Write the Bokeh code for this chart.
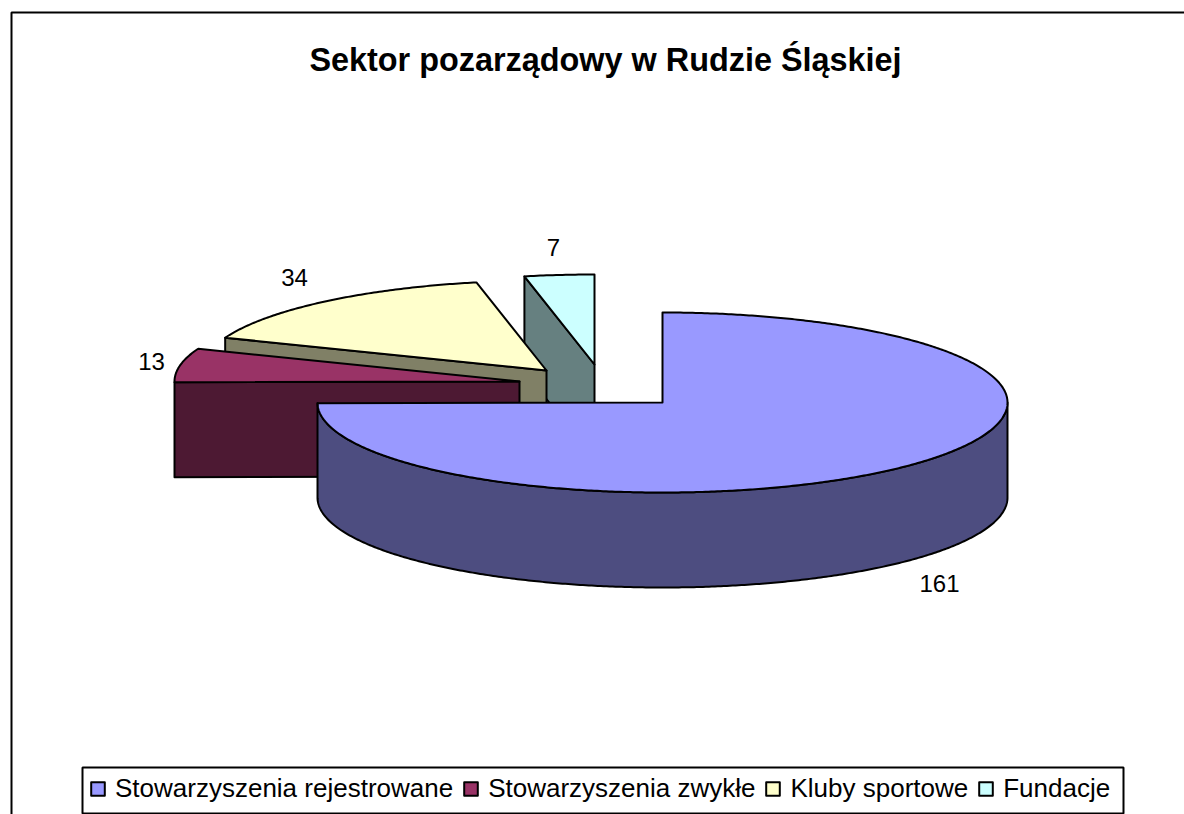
import numpy as np
from bokeh.core.properties import value
from bokeh.embed import file_html
from bokeh.models import Legend, LegendItem, Range1d
from bokeh.plotting import figure
from bokeh.resources import INLINE

categories = ["Stowarzyszenia rejestrowane", "Stowarzyszenia zwykłe", "Kluby sportowe", "Fundacje"]
values = [161, 13, 34, 7]
top_colors = ["#9999FF", "#993366", "#FFFFCC", "#CCFFFF"]
wall_colors = ["#4D4D80", "#4D1933", "#808066", "#668080"]
title = "Sektor pozarządowy w Rudzie Śląskiej"

W, H = 1184, 814
p = figure(width=W, height=H, output_backend="svg", toolbar_location=None,
           x_range=Range1d(0, W), y_range=Range1d(H, 0),
           min_border=0, outline_line_color=None, background_fill_color="white")
p.axis.visible = False
p.grid.visible = False

# page-pixel geometry of the exploded 3-D pie
RX, RY, DEPTH = 345, 90, 95
apexes = [(662, 402), (519, 381), (546, 370), (594, 364)]
LW = 2

fractions = np.array(values) / sum(values)
edges = np.concatenate([[0], np.cumsum(fractions) * 360])


def arc(apex, a0, a1):
    t = np.radians(np.linspace(a0, a1, max(int(abs(a1 - a0) * 2), 3)))
    return apex[0] + RX * np.sin(t), apex[1] - RY * np.cos(t)


def poly(xs, ys, color):
    return p.patch(list(xs), list(ys), fill_color=color, line_color="black",
                   line_width=LW, line_join="round")


# chart frame and legend box
p.line([11, 11, 1184], [814, 12, 12], line_color="black", line_width=2)
p.quad(left=[82], right=[1123], top=[767], bottom=[813], fill_color="white",
       line_color="black", line_width=2)

legend_items = {}
for i in [3, 2, 1, 0]:
    a0, a1 = edges[i], edges[i + 1]
    apex = apexes[i]
    if i == 0:
        # outer rim, lower half of the ellipse
        xr, yr = arc(apex, 90, a1)
        poly(np.r_[xr, xr[::-1]], np.r_[yr, yr[::-1] + DEPTH], wall_colors[i])
    else:
        # cut face that looks towards the viewer
        xc, yc = arc(apex, a0, a0)
        ex, ey = xc[0], yc[0]
        poly([ex, apex[0], apex[0], ex], [ey, apex[1], apex[1] + DEPTH, ey + DEPTH], wall_colors[i])
    xa, ya = arc(apex, a0, a1)
    legend_items[i] = poly(np.r_[apex[0], xa, apex[0]], np.r_[apex[1], ya, apex[1]], top_colors[i])

# title and data labels
font = value("Liberation Sans")
p.text([605], [59], text=[title], text_font=font, text_font_size="32.4px", text_font_style="bold",
       text_align="center", text_baseline="middle", text_color="black")
p.text([939, 151, 294, 553], [583, 361, 277, 247], text=[str(v) for v in values], text_font=font,
       text_font_size="24px", text_align="center", text_baseline="middle", text_color="black")

legend = Legend(items=[LegendItem(label=c, renderers=[legend_items[i]]) for i, c in enumerate(categories)],
                orientation="horizontal", location=(84, 3), padding=5, margin=0, spacing=9,
                label_standoff=9, glyph_width=17, glyph_height=17, label_height=36,
                label_text_font="Liberation Sans",
                label_text_font_size="26px", label_text_color="black", border_line_alpha=0,
                background_fill_alpha=0, click_policy="none")
p.add_layout(legend, "center")

open("out.html", "w").write(file_html(p, INLINE))
